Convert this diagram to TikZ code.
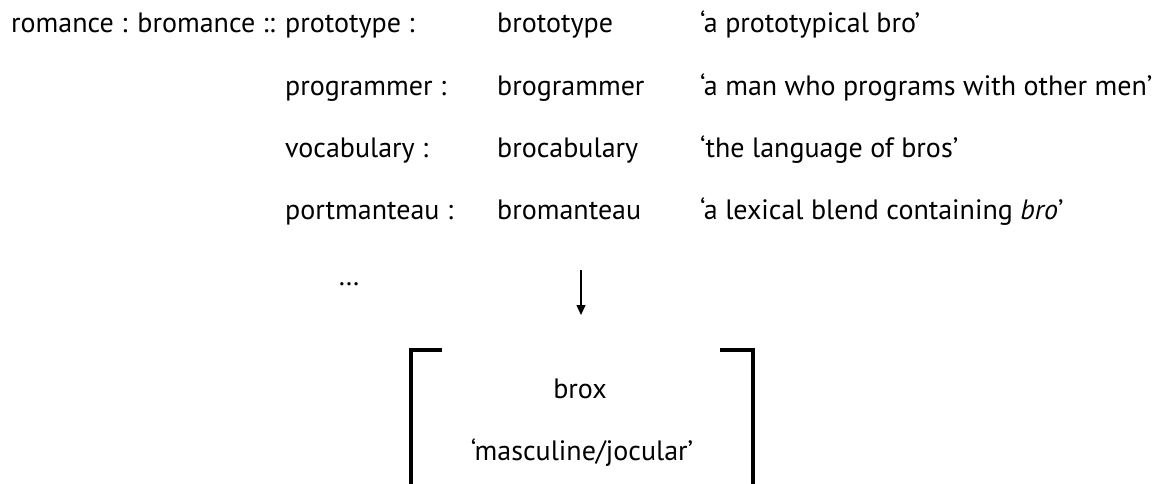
\documentclass[tikz,border=0pt]{standalone}
\usepackage{fontspec}
\setmainfont{PT Sans}
\usetikzlibrary{arrows.meta}
\begin{document}
\begin{tikzpicture}[x=1pt,y=-1pt,
  txt/.style={anchor=base west,inner sep=0pt,font=\fontsize{28}{34}\selectfont},
  ctxt/.style={anchor=base,inner sep=0pt,font=\fontsize{28}{34}\selectfont},
  bracketline/.style={line width=4pt,line cap=butt,line join=miter},
  arr/.style={line width=1.3pt,-{Triangle[length=10pt,width=9pt]}}]
\useasboundingbox (0,0) rectangle (1160,483);
\node[txt] (r0) at (11,32) {romance : bromance ::};
\node[txt] (a1) at (285,32) {prototype :};
\node[txt] (a2) at (285,95) {programmer :};
\node[txt] (a3) at (285,157) {vocabulary :};
\node[txt] (a4) at (285,219) {portmanteau :};
\node[txt] (b1) at (497,32) {brototype};
\node[txt] (b2) at (497,95) {brogrammer};
\node[txt] (b3) at (497,157) {brocabulary};
\node[txt] (b4) at (497,219) {bromanteau};
\node[txt] (c1) at (700,32) {‘a prototypical bro’};
\node[txt] (c2) at (700,95) {‘a man who programs with other men’};
\node[txt] (c3) at (700,157) {‘the language of bros’};
\node[txt] (c4) at (700,219) {‘a lexical blend containing \textit{bro}’};
\node[ctxt] (dots) at (349,285) {…};
\coordinate (arrtop) at (581,270);
\coordinate (arrtip) at (581,315);
\draw[arr] (arrtop) -- (arrtip);
\node[ctxt] (brox) at (580,398) {brox};
\node[ctxt] (gloss) at (582,460) {‘masculine/jocular’};
\coordinate (lb) at (411,490);
\coordinate (lt) at (411,350);
\coordinate (la) at (442,350);
\coordinate (rb) at (753,490);
\coordinate (rt) at (753,350);
\coordinate (ra) at (720,350);
\draw[bracketline] (la) -- (lt) -- (lb);
\draw[bracketline] (ra) -- (rt) -- (rb);
\end{tikzpicture}
\end{document}
